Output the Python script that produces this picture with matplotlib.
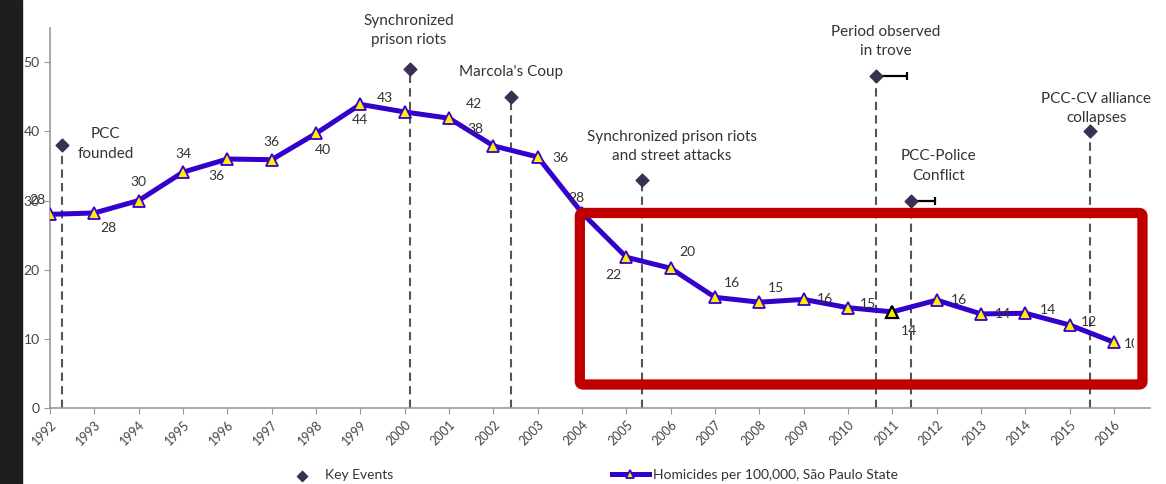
import matplotlib
matplotlib.use('Agg')
import matplotlib.pyplot as plt
from matplotlib.patches import FancyBboxPatch, Rectangle
from matplotlib.transforms import Bbox, TransformedBbox

plt.rcParams['font.family'] = ['Lato', 'DejaVu Sans']

# Homicide series
years = list(range(1992, 2017))
homicides = [28.0, 28.2, 30.0, 34.1, 36.0, 35.9, 39.7, 43.9, 42.8, 41.9, 37.9, 36.3,
             28.2, 21.8, 20.2, 16.0, 15.3, 15.7, 14.5, 13.9, 15.6, 13.6, 13.7, 12.0, 9.5]
value_labels = ['28', '28', '30', '34', '36', '36', '40', '44', '43', '42', '38', '36',
                '28', '22', '20', '16', '15', '16', '15', '14', '16', '14', '14', '12', '10']
# label offsets (points) relative to each marker
label_dx = [-9, 10, 0, 0, -8, 0, 5, 0, -14, 18, -13, 16, -4, -9, 12, 12, 12, 15, 14, 12, 16, 16, 16, 14, 13]
label_dy = [10, -11, 13, 13, -12, 13, -12, -11, 10, 10, 12, -1, 11, -13, 12, 10, 10, 0, 3, -14, 0, 0, 2, 2, -1]

# Key events
event_x = [1992.27, 2000.11, 2002.4, 2005.36, 2010.63, 2011.41, 2015.45]
event_y = [38, 49, 45, 33, 48, 30, 40]
event_text = ['PCC\nfounded', 'Synchronized\nprison riots', "Marcola's Coup",
              'Synchronized prison riots\nand street attacks', 'Period observed\nin trove',
              'PCC-Police\nConflict', 'PCC-CV alliance\ncollapses']
event_span = [0, 0, 0, 0, 0.7, 0.55, 0]
text_x = [1993.25, 2000.1, 2002.4, 2006.03, 2010.85, 2012.04, 2015.6]
text_y = [38.2, 54.6, 48.6, 37.8, 53.0, 35.0, 43.3]

fig = plt.figure(figsize=(11.66, 4.84), dpi=100)
ax = fig.add_axes([0.0429, 0.157, 0.943, 0.786])

# dark frame strip at the left edge
fig.patches.append(Rectangle((0, 0), 22 / 1166, 1, transform=fig.transFigure,
                             color='#1e1e1e', zorder=0))

for x, y, span in zip(event_x, event_y, event_span):
    ax.plot([x, x], [0, y], color='#555555', lw=1.5, ls=(0, (4, 2.5)), zorder=2)
    if span:
        ax.errorbar([x], [y], xerr=[[0], [span]], fmt='none', ecolor='black',
                    elinewidth=1.6, capsize=3, capthick=1.6, zorder=3)
ev = ax.scatter(event_x, event_y, marker='D', s=42, color='#3b2f52', zorder=4,
                label='Key Events')

for tx, ty, t in zip(text_x, text_y, event_text):
    ax.text(tx, ty, t, ha='center', va='center', fontsize=11, color='#333333',
            linespacing=1.5, zorder=5)

line, = ax.plot(years, homicides, color='#3300cc', lw=3.6, marker='^', markersize=8,
                markerfacecolor='#ffee00', markeredgecolor='#3300cc', markeredgewidth=1.3,
                zorder=6, label='Homicides per 100,000, São Paulo State')
ax.plot([2011], [homicides[years.index(2011)]], marker='^', markersize=8, ls='none',
        markerfacecolor='#ffee00', markeredgecolor='black', markeredgewidth=1.6, zorder=7)

# labels are cut off at the inner edge of the red box
clip = TransformedBbox(Bbox([[1991, -5], [2016.46, 60]]), ax.transData)
for x, y, lab, dx, dy in zip(years, homicides, value_labels, label_dx, label_dy):
    a = ax.annotate(lab, (x, y), xytext=(dx, dy), textcoords='offset points',
                    ha='center', va='center', fontsize=10, color='#333333', zorder=8,
                    annotation_clip=False)
    a.set_clip_box(clip)
    a.set_clip_on(True)

# red highlight box
box = FancyBboxPatch((2003.95, 3.4), 12.69, 24.8, boxstyle='round,pad=0,rounding_size=0.08',
                     fill=False, edgecolor='#c00000', lw=7.4, zorder=10, clip_on=False,
                     mutation_aspect=6)
ax.add_patch(box)

ax.set_xlim(1992, 2016.8)
ax.set_ylim(0, 55)
ax.set_xticks(years)
ax.set_xticklabels([str(y) for y in years], rotation=45, ha='right', rotation_mode='anchor',
                   fontsize=9, color='#444444')
ax.set_yticks([0, 10, 20, 30, 40, 50])
ax.tick_params(axis='y', labelsize=10, labelcolor='#444444', color='#999999', length=4)
ax.tick_params(axis='x', color='#999999', length=4)
for s in ['top', 'right']:
    ax.spines[s].set_visible(False)
for s in ['left', 'bottom']:
    ax.spines[s].set_color('#999999')
    ax.spines[s].set_linewidth(1.2)

leg = fig.legend(handles=[ev, line], loc='lower left', bbox_to_anchor=(0.232, -0.02), ncol=2,
                 frameon=False, fontsize=10, columnspacing=15.75, handlelength=2.7,
                 handletextpad=0.3, markerscale=0.8)
for t in leg.get_texts():
    t.set_color('#333333')

fig.savefig('out.png', dpi=100)
